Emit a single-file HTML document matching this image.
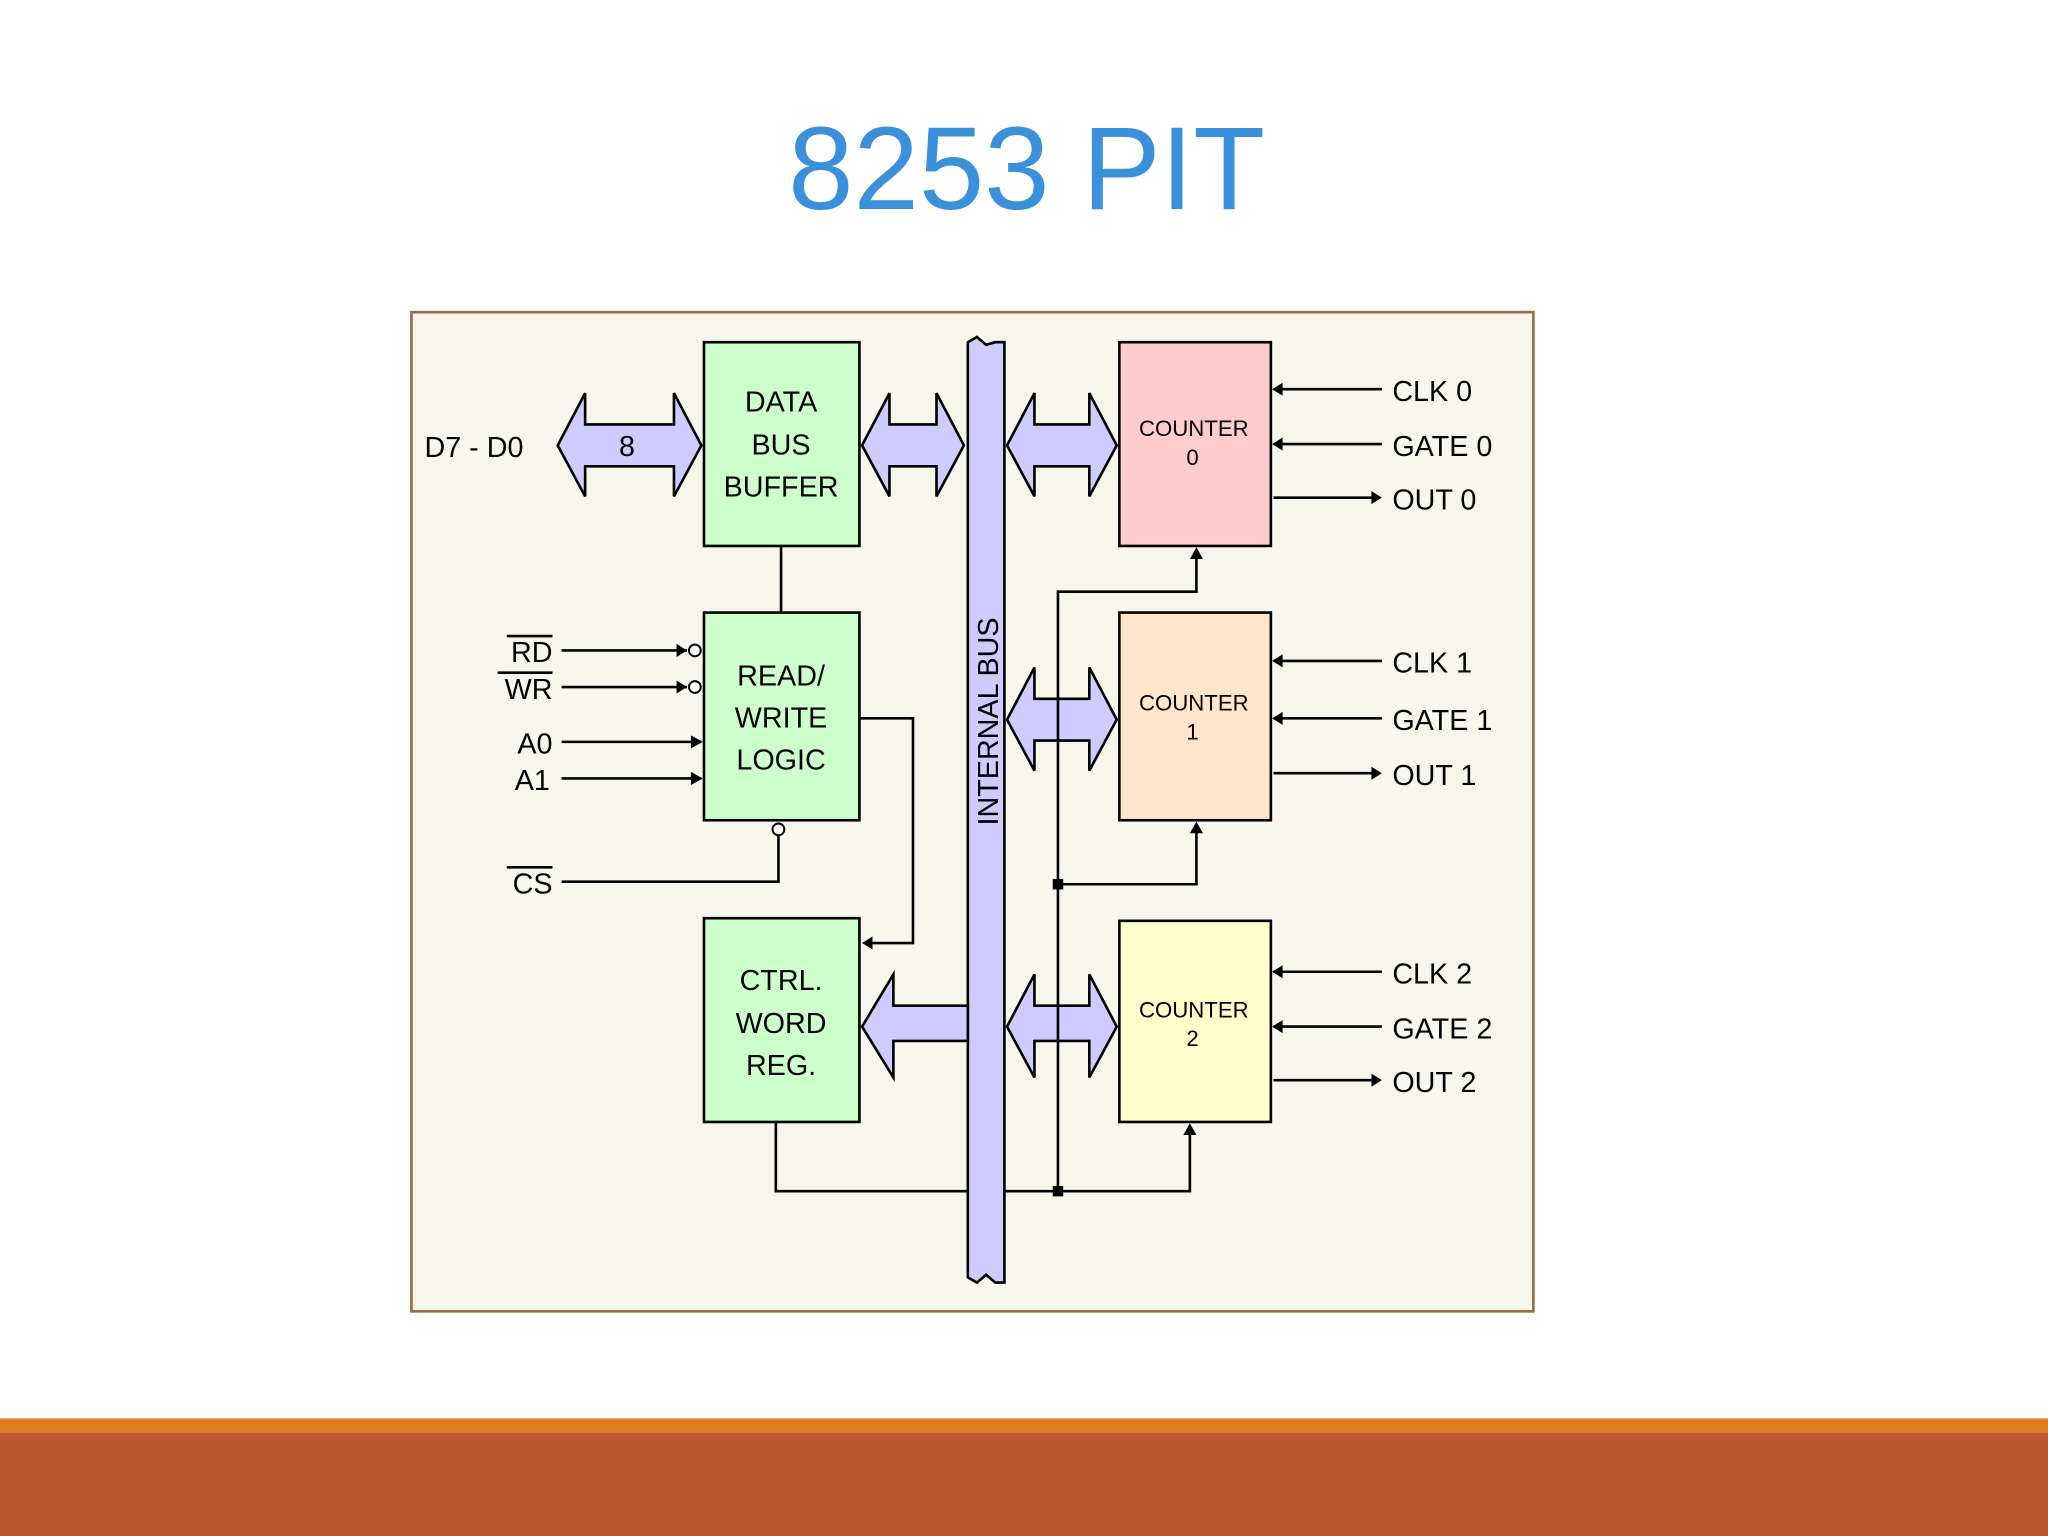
<!DOCTYPE html>
<html><head><meta charset="utf-8"><style>
html,body{margin:0;padding:0;background:#fff;}
svg{display:block;}
text{font-family:"Liberation Sans",sans-serif;}
</style></head><body>
<svg width="2048" height="1536" viewBox="0 0 1568 1176" xmlns="http://www.w3.org/2000/svg">
<rect width="1568" height="1176" fill="#fff"/>
<text x="786" y="160" text-anchor="middle" font-size="90" fill="#3A90DA">8253 PIT</text>
<rect x="315" y="239" width="859" height="765" fill="#F7F6EA" stroke="#9B6B40" stroke-width="2"/>
<rect x="0" y="1086" width="1568" height="11" fill="#E07B1F"/>
<rect x="0" y="1097" width="1568" height="79" fill="#BA5A2E"/>
<g stroke="#000" stroke-width="2" fill="none">
<!-- internal bus -->
<path d="M741,262 L748,258 L755,264 L762,262 L769,262 L769,982 L762,982 L755,976 L748,982 L741,978 Z" fill="#CCCCFF"/>
<!-- double arrows -->
<path d="M427,341 L448,301 L448,325 L516,325 L516,301 L537,341 L516,380 L516,357 L448,357 L448,380 Z" fill="#CCCCFF"/>
<path d="M660,341 L681,301 L681,325 L717,325 L717,301 L738,341 L717,380 L717,357 L681,357 L681,380 Z" fill="#CCCCFF"/>
<path d="M771,341 L792,301 L792,325 L834,325 L834,301 L855,341 L834,380 L834,357 L792,357 L792,380 Z" fill="#CCCCFF"/>
<path d="M771,551 L792,511 L792,535 L834,535 L834,511 L855,551 L834,590 L834,567 L792,567 L792,590 Z" fill="#CCCCFF"/>
<path d="M771,786 L792,746 L792,770 L834,770 L834,746 L855,786 L834,825 L834,797 L792,797 L792,825 Z" fill="#CCCCFF"/>
<path d="M660,786 L684,746 L684,770 L741,770 L741,797 L684,797 L684,825 Z" fill="#CCCCFF"/>
<!-- boxes -->
<rect x="539" y="262" width="119" height="156" fill="#CCFFCC"/>
<rect x="539" y="469" width="119" height="159" fill="#CCFFCC"/>
<rect x="539" y="703" width="119" height="156" fill="#CCFFCC"/>
<rect x="857" y="262" width="116" height="156" fill="#FFCCCC"/>
<rect x="857" y="469" width="116" height="159" fill="#FFE5CC"/>
<rect x="857" y="705" width="116" height="154" fill="#FFFFCC"/>
<!-- lines -->
<path d="M598,418 V469"/>
<path d="M430,498 H526 M430,526 H526 M430,568 H537 M430,596 H537"/>
<path d="M430,675 H596 V640"/>
<path d="M658,550 H699 V722 H662"/>
<path d="M810,912 V453 H916 V422"/>
<path d="M810,677 H916 V632"/>
<path d="M594,859 V912 H741 M769,912 H911 V863"/>
<path d="M975,298 H1058 M975,340 H1058 M975,381 H1056"/>
<path d="M975,506 H1058 M975,550 H1058 M975,592 H1056"/>
<path d="M975,744 H1058 M975,786 H1058 M975,827 H1056"/>
</g>
<g fill="#fff" stroke="#000" stroke-width="1.5">
<circle cx="532" cy="498" r="4.5"/><circle cx="532" cy="526" r="4.5"/><circle cx="596" cy="635" r="4.5"/>
</g>
<g fill="#000">
<path d="M518,493 L526,498 L518,503Z M518,521 L526,526 L518,531Z M529,563 L538,568 L529,573Z M529,591 L538,596 L529,601Z"/>
<path d="M660,722 L668,717 L668,727Z"/>
<path d="M916,419 L911,428 L921,428Z M916,629 L911,638 L921,638Z M911,860 L906,869 L916,869Z"/>
<path d="M974,298 L982,293 L982,303Z M974,340 L982,335 L982,345Z M1058,381 L1050,376 L1050,386Z"/>
<path d="M974,506 L982,501 L982,511Z M974,550 L982,545 L982,555Z M1058,592 L1050,587 L1050,597Z"/>
<path d="M974,744 L982,739 L982,749Z M974,786 L982,781 L982,791Z M1058,827 L1050,822 L1050,832Z"/>
<rect x="806" y="673" width="8" height="8"/><rect x="806" y="908" width="8" height="8"/>
</g>
<g font-size="22" fill="#000">
<text x="325" y="350">D7 - D0</text>
<text x="480" y="349" text-anchor="middle">8</text>
<g text-anchor="middle">
<text x="598" y="315">DATA</text><text x="598" y="348">BUS</text><text x="598" y="380">BUFFER</text>
<text x="598" y="525">READ/</text><text x="598" y="557">WRITE</text><text x="598" y="589">LOGIC</text>
<text x="598" y="758">CTRL.</text><text x="598" y="791">WORD</text><text x="598" y="823">REG.</text>
</g>
<text x="423" y="507" text-anchor="end">RD</text><text x="423" y="535" text-anchor="end">WR</text>
<text x="423" y="577" text-anchor="end">A0</text><text x="421" y="605" text-anchor="end">A1</text>
<text x="423" y="684" text-anchor="end">CS</text>
<text x="1066" y="307">CLK 0</text><text x="1066" y="349">GATE 0</text><text x="1066" y="390">OUT 0</text>
<text x="1066" y="515">CLK 1</text><text x="1066" y="559">GATE 1</text><text x="1066" y="601">OUT 1</text>
<text x="1066" y="753">CLK 2</text><text x="1066" y="795">GATE 2</text><text x="1066" y="836">OUT 2</text>
</g>
<g stroke="#000" stroke-width="2">
<path d="M388,487 H423 M381,515 H423 M388,664 H423"/>
</g>
<g font-size="17" fill="#000" text-anchor="middle">
<text x="914" y="334">COUNTER</text><text x="913" y="356">0</text>
<text x="914" y="544">COUNTER</text><text x="913" y="566">1</text>
<text x="914" y="779">COUNTER</text><text x="913" y="801">2</text>
</g>
<text transform="translate(764,632) rotate(-90)" font-size="22" fill="#000">INTERNAL BUS</text>
</svg>
</body></html>
